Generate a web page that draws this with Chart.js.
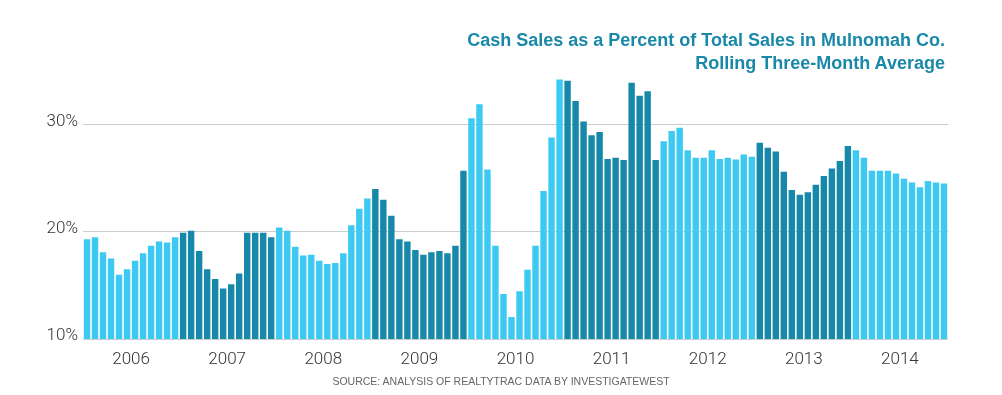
<!DOCTYPE html>
<html>
<head>
<meta charset="utf-8">
<script src="https://cdn.jsdelivr.net/npm/chart.js@4"></script>
<style>
    body { margin: 0; background: #fff; }
    #wrap { position: relative; width: 1002px; height: 395px; }
    .title {
        position: absolute; right: 57px; top: 29px;
        font: bold 18px "Liberation Sans", Arial, sans-serif;
        line-height: 23px; color: #1a88a9; text-align: right;
    }
    .source {
        position: absolute; left: 0; width: 1002px; top: 375px;
        font: 10.5px "Liberation Sans", Arial, sans-serif;
        color: #666; text-align: center;
    }
</style>
</head>
<body>
<div id="wrap">
    <canvas id="chart" width="1002" height="395"></canvas>
    <div class="title">Cash Sales as a Percent of Total Sales in Mulnomah Co.<br>Rolling Three-Month Average</div>
    <div class="source">SOURCE: ANALYSIS OF REALTYTRAC DATA BY INVESTIGATEWEST</div>
</div>
<script>
// Years and months on the x axis
const years = ['2006', '2007', '2008', '2009', '2010', '2011', '2012', '2013', '2014'];
const months = ['Jan', 'Feb', 'Mar', 'Apr', 'May', 'Jun', 'Jul', 'Aug', 'Sep', 'Oct', 'Nov', 'Dec'];

// Cash sales share (%), rolling three-month average, one array per year
const cash2006 = [19.3, 19.5, 18.1, 17.5, 16.0, 16.5, 17.3, 18.0, 18.7, 19.1, 19.0, 19.5];
const cash2007 = [19.9, 20.1, 18.2, 16.5, 15.6, 14.7, 15.1, 16.1, 19.9, 19.9, 19.9, 19.5];
const cash2008 = [20.4, 20.1, 18.6, 17.8, 17.85, 17.3, 17.0, 17.1, 18.0, 20.6, 22.15, 23.1];
const cash2009 = [24.0, 23.0, 21.5, 19.3, 19.1, 18.3, 17.85, 18.1, 18.2, 18.0, 18.7, 25.7];
const cash2010 = [30.6, 31.9, 25.8, 18.7, 14.2, 12.05, 14.45, 16.45, 18.7, 23.8, 28.8, 34.2];
const cash2011 = [34.1, 32.2, 30.3, 29.0, 29.3, 26.8, 26.9, 26.7, 33.9, 32.7, 33.1, 26.7];
const cash2012 = [28.45, 29.4, 29.7, 27.6, 26.9, 26.9, 27.6, 26.8, 26.9, 26.75, 27.2, 27.0];
const cash2013 = [28.3, 27.85, 27.5, 25.6, 23.9, 23.45, 23.7, 24.4, 25.2, 25.9, 26.6, 28.0];
const cash2014 = [27.6, 26.9, 25.7, 25.7, 25.7, 25.45, 24.95, 24.6, 24.15, 24.75, 24.6, 24.5];

const yTicks = [10, 20, 30];

const cashByYear = [cash2006, cash2007, cash2008, cash2009, cash2010, cash2011, cash2012, cash2013, cash2014];

// Alternate light / dark per year
const lightBlue = '#3ccaf3';
const darkBlue = '#1688a9';

const labels = [];
const values = [];
const colors = [];
years.forEach((yr, yi) => {
    cashByYear[yi].forEach((v, mi) => {
        labels.push(months[mi] + ' ' + yr);
        values.push(v);
        colors.push(yi % 2 === 0 ? lightBlue : darkBlue);
    });
});

new Chart(document.getElementById('chart'), {
    type: 'bar',
    data: {
        labels: labels,
        datasets: [{
            data: values,
            backgroundColor: colors,
            borderWidth: 0,
            barPercentage: 0.8,
            categoryPercentage: 1.0
        }]
    },
    options: {
        responsive: false,
        animation: false,
        layout: { padding: { top: 71, right: 54, left: 0, bottom: 0 } },
        plugins: {
            legend: { display: false },
            tooltip: { enabled: false }
        },
        scales: {
            x: {
                display: false
            },
            years: {
                type: 'category',
                labels: years,
                position: 'bottom',
                offset: true,
                grid: { display: false },
                border: { display: false },
                ticks: {
                    color: '#333',
                    padding: 3,
                    maxRotation: 0,
                    font: { family: 'Roboto, "Liberation Sans", sans-serif', size: 17, weight: 300 }
                },
                afterFit: (scale) => { scale.height = 56; }
            },
            y: {
                min: 10,
                max: 35,
                border: { display: false },
                grid: { color: '#cccccc', lineWidth: 1, drawTicks: false },
                afterBuildTicks: (axis) => {
                    axis.ticks = yTicks.map(v => ({ value: v }));
                },
                ticks: {
                    color: '#333',
                    padding: 5,
                    labelOffset: -3,
                    font: { family: 'Roboto, "Liberation Sans", sans-serif', size: 17, weight: 300 },
                    callback: (v) => v + '%'
                },
                afterFit: (scale) => { scale.width = 83; }
            }
        }
    }
});
</script>
</body>
</html>
